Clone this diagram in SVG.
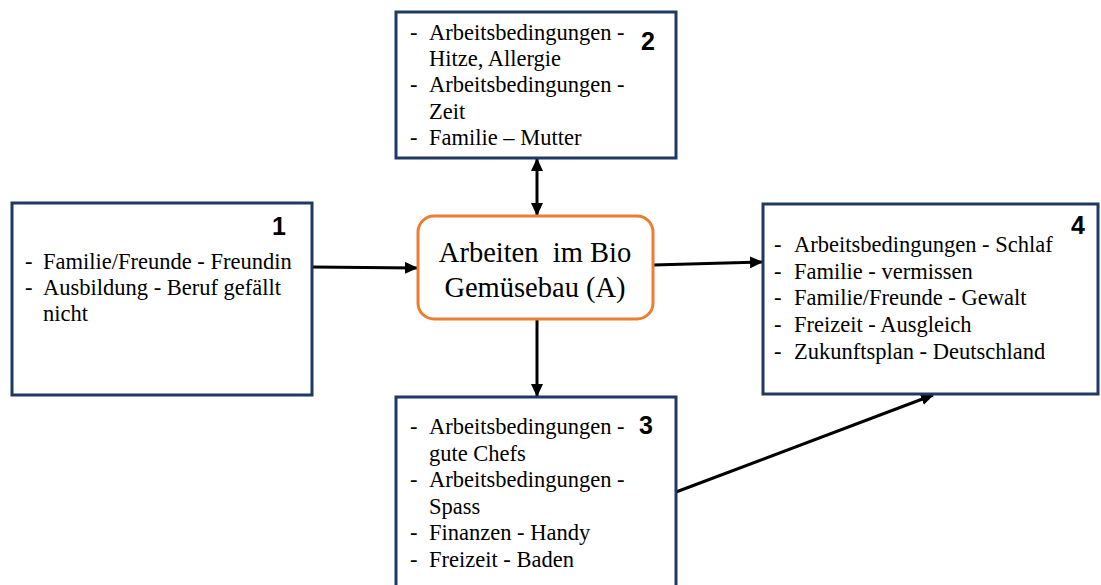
<svg xmlns="http://www.w3.org/2000/svg" width="1101" height="585" viewBox="0 0 1101 585">
<style>
.box{fill:#fff;stroke:#203864;stroke-width:3}
.t{font-family:'Liberation Serif',serif;font-size:22.5px;fill:#000}
.c{font-family:'Liberation Serif',serif;font-size:28.5px;fill:#000;text-anchor:middle}
.n{font-family:'Liberation Sans',sans-serif;font-size:25px;font-weight:bold;fill:#000;text-anchor:middle}
.e{stroke:#000;stroke-width:3;fill:none}
</style>
<defs>
<marker id="ah" markerUnits="userSpaceOnUse" markerWidth="14" markerHeight="12" refX="12" refY="6" orient="auto-start-reverse">
<path d="M0,0 L13,6 L0,12 Z" fill="#000"/>
</marker>
</defs>
<rect width="1101" height="585" fill="#fff"/>
<g id="connectors">
<line class="e" x1="312" y1="267" x2="417" y2="268" marker-end="url(#ah)"/>
<line class="e" x1="653" y1="265" x2="762" y2="262" marker-end="url(#ah)"/>
<line class="e" x1="537" y1="159" x2="537" y2="215" marker-start="url(#ah)" marker-end="url(#ah)"/>
<line class="e" x1="537" y1="319" x2="537" y2="396" marker-end="url(#ah)"/>
<line class="e" x1="676" y1="492" x2="933" y2="395" marker-end="url(#ah)"/>
</g>
<g id="node2">
<rect class="box" x="396" y="12" width="280" height="146"/>
<text class="t" x="410" y="40">-</text><text class="t" x="429" y="40">Arbeitsbedingungen -</text>
<text class="t" x="429" y="66">Hitze, Allergie</text>
<text class="t" x="410" y="92">-</text><text class="t" x="429" y="92">Arbeitsbedingungen -</text>
<text class="t" x="429" y="119">Zeit</text>
<text class="t" x="410" y="145">-</text><text class="t" x="429" y="145">Familie – Mutter</text>
<text class="n" x="648" y="50">2</text>
</g>
<g id="node1">
<rect class="box" x="12" y="203" width="300" height="192"/>
<text class="t" x="25" y="269">-</text><text class="t" x="43" y="269">Familie/Freunde - Freundin</text>
<text class="t" x="25" y="295">-</text><text class="t" x="43" y="295">Ausbildung - Beruf gefällt</text>
<text class="t" x="43" y="321">nicht</text>
<text class="n" x="279" y="235">1</text>
</g>
<g id="center">
<rect x="418" y="216" width="235" height="103" rx="16" ry="16" fill="#fff" stroke="#ED7D31" stroke-width="3"/>
<text class="c" x="535" y="262" xml:space="preserve">Arbeiten  im Bio</text>
<text class="c" x="535" y="297">Gemüsebau (A)</text>
</g>
<g id="node4">
<rect class="box" x="763" y="204" width="335" height="190"/>
<text class="t" x="774" y="252">-</text><text class="t" x="794" y="252">Arbeitsbedingungen - Schlaf</text>
<text class="t" x="774" y="279">-</text><text class="t" x="794" y="279">Familie - vermissen</text>
<text class="t" x="774" y="305">-</text><text class="t" x="794" y="305">Familie/Freunde - Gewalt</text>
<text class="t" x="774" y="332">-</text><text class="t" x="794" y="332">Freizeit - Ausgleich</text>
<text class="t" x="774" y="359">-</text><text class="t" x="794" y="359">Zukunftsplan - Deutschland</text>
<text class="n" x="1078" y="234">4</text>
</g>
<g id="node3">
<rect class="box" x="396" y="397" width="280" height="200"/>
<text class="t" x="410" y="434">-</text><text class="t" x="429" y="434">Arbeitsbedingungen -</text>
<text class="t" x="429" y="461">gute Chefs</text>
<text class="t" x="410" y="487">-</text><text class="t" x="429" y="487">Arbeitsbedingungen -</text>
<text class="t" x="429" y="514">Spass</text>
<text class="t" x="410" y="540">-</text><text class="t" x="429" y="540">Finanzen - Handy</text>
<text class="t" x="410" y="567">-</text><text class="t" x="429" y="567">Freizeit - Baden</text>
<text class="n" x="646" y="434">3</text>
</g>
</svg>
